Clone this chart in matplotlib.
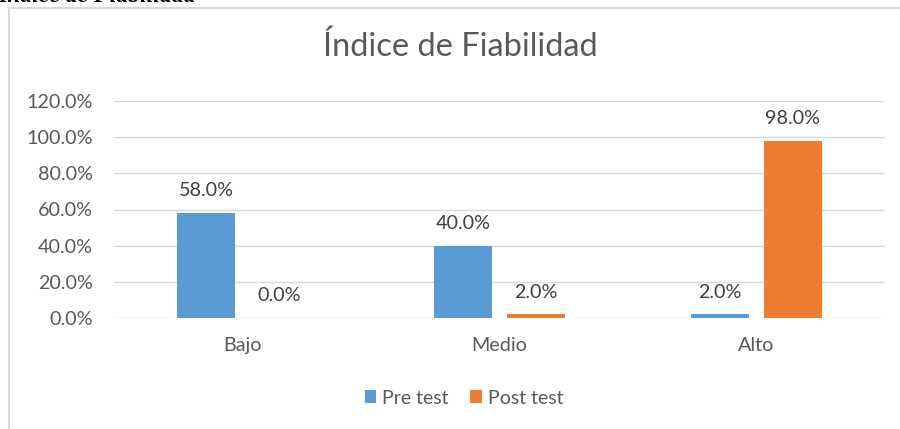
import matplotlib
matplotlib.use("Agg")
import matplotlib.pyplot as plt
from matplotlib.lines import Line2D
import numpy as np

categories = ["Bajo", "Medio", "Alto"]
pre_test = [58.0, 40.0, 2.0]
post_test = [0.0, 2.0, 98.0]
series_names = ["Pre test", "Post test"]
yticks = [0, 20, 40, 60, 80, 100, 120]

BLUE = "#5b9bd5"
ORANGE = "#ed7d31"
TXT = "#595959"
GRID = "#d9d9d9"

plt.rcParams["font.family"] = ["Lato", "DejaVu Sans"]

W, H = 900, 429
fig = plt.figure(figsize=(W / 100, H / 100), dpi=100)
ax = fig.add_axes([114 / W, 1 - 318 / H, (885 - 114) / W, (318 - 101) / H])

x = np.arange(len(categories))
w = 0.222
off = 0.142
b1 = ax.bar(x - off, pre_test, w, color=BLUE, label=series_names[0], zorder=3)
b2 = ax.bar(x + off, post_test, w, color=ORANGE, label=series_names[1], zorder=3)

for bars, vals in ((b1, pre_test), (b2, post_test)):
    for r, v in zip(bars, vals):
        ax.annotate(f"{v:.1f}%", (r.get_x() + r.get_width() / 2, v),
                    xytext=(0, 16), textcoords="offset points",
                    ha="center", va="center", fontsize=14.2, color="#404040")

ax.set_xlim(-0.5, 2.5)
ax.set_ylim(0, 120)
ax.set_yticks(yticks)
ax.set_yticklabels([f"{t:.1f}%" for t in yticks])
ax.set_xticks(x)
ax.set_xticklabels(categories)
ax.tick_params(axis="both", length=0, labelsize=14.2, labelcolor=TXT)
ax.tick_params(axis="y", pad=15)
ax.tick_params(axis="x", pad=14)
ax.grid(axis="y", color=GRID, lw=1.0, zorder=0)
for s in ax.spines.values():
    s.set_visible(False)

fig.text(460 / W, 1 - 47 / H, "Índice de Fiabilidad", ha="center", va="center",
         fontsize=23.5, color=TXT)

fig.legend(handles=[b1, b2], loc="center", bbox_to_anchor=(464 / W, 1 - 398 / H),
           ncol=2, frameon=False, fontsize=14, labelcolor=TXT,
           handlelength=0.6, handleheight=0.6, handletextpad=0.3,
           columnspacing=1.1)

# chart frame (left and top edges visible)
fig.add_artist(Line2D([8.5 / W, 8.5 / W], [0, 1 - 8 / H], color=GRID, lw=1.5,
                      transform=fig.transFigure))
fig.add_artist(Line2D([8.5 / W, 1], [1 - 8 / H, 1 - 8 / H], color=GRID, lw=1.5,
                      transform=fig.transFigure))

# cut-off caption above the chart
fig.text(-2 / W, 1 - 2 / H, "Índice de Fiabilidad", ha="left", va="baseline",
         fontsize=17, style="italic", weight="bold", family="Liberation Serif",
         color="black")

fig.savefig("out.png", dpi=100)
